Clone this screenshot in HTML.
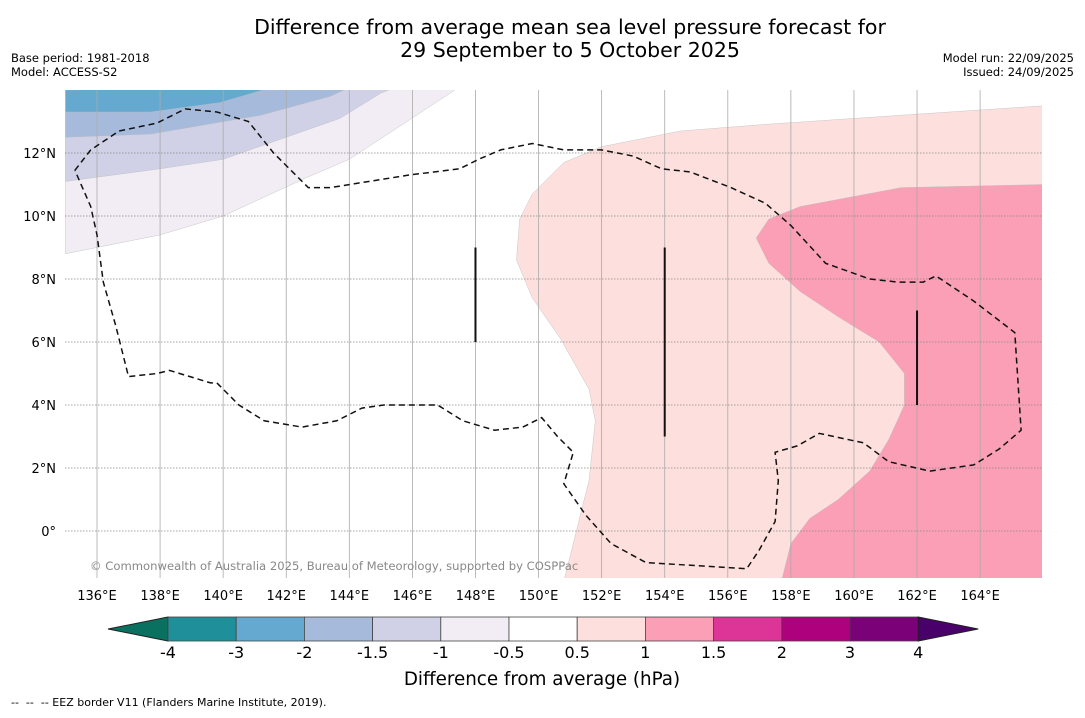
<!DOCTYPE html>
<html><head><meta charset="utf-8">
<style>
body{margin:0;background:#fff;font-family:"Liberation Sans","DejaVu Sans",sans-serif;}
svg text{font-family:"DejaVu Sans","Liberation Sans",sans-serif;}
</style></head>
<body>
<svg width="1085" height="713" viewBox="0 0 1085 713" xmlns="http://www.w3.org/2000/svg">
<text x="570" y="34" text-anchor="middle" font-size="20.5">Difference from average mean sea level pressure forecast for</text>
<text x="570" y="57" text-anchor="middle" font-size="20.5">29 September to 5 October 2025</text>
<text x="11" y="62" font-size="11.5">Base period: 1981-2018</text>
<text x="11" y="76" font-size="11.5">Model: ACCESS-S2</text>
<text x="1074" y="62" font-size="11.5" text-anchor="end">Model run: 22/09/2025</text>
<text x="1074" y="76" font-size="11.5" text-anchor="end">Issued: 24/09/2025</text>
<defs><clipPath id="mapclip"><rect x="65" y="90" width="977" height="488"/></clipPath></defs>
<g id="map" clip-path="url(#mapclip)"></g>
<g id="axes"></g>
<text x="90" y="570" font-size="11.6" fill="#888">© Commonwealth of Australia 2025, Bureau of Meteorology, supported by COSPPac</text>
<g id="cbar"></g>
<text x="542" y="685" text-anchor="middle" font-size="18.3">Difference from average (hPa)</text>
<text x="11" y="706" font-size="11" xml:space="preserve">--  --  -- EEZ border V11 (Flanders Marine Institute, 2019).</text>
</svg>
<script>
const lonTicks=[136,138,140,142,144,146,148,150,152,154,156,158,160,162,164];
const latTicks=[0,2,4,6,8,10,12];
const levels=[-4,-3,-2,-1.5,-1,-0.5,0.5,1,1.5,2,3,4];
const levelColors=["#1f9099","#66a9d0","#a6bbdc","#d0d1e6","#f2edf4","#ffffff","#fde0dd","#fa9fb5","#dd3497","#ae017e","#7a0177"];
// contour boundaries [lon,lat]
const bandM2=[[135,14],[135,13.3],[137.7,13.3],[139.9,13.6],[141.6,14.1]];
const bandM15=[[135,14],[135,12.5],[137.7,12.6],[141.2,13.2],[143.4,13.8],[144.7,14.4]];
const bandM1=[[135,14],[135,11.1],[138,11.5],[140,11.8],[143.7,13.1],[145,13.9],[145.5,14.1]];
const bandM05=[[135,14],[135,8.8],[138,9.4],[140,10.0],[142.6,11.2],[144,11.8],[147.5,14.1]];
const pink1=[[150.8,-1.6],[151.2,0.0],[151.6,1.6],[151.8,3.5],[151.6,4.5],[150.7,6.1],[149.8,7.4],[149.3,8.6],[149.4,9.9],[149.8,10.7],[150.8,11.7],[152.0,12.2],[154.5,12.7],[157.1,12.9],[161.5,13.2],[166,13.5],[166,-1.6]];
const pink15=[[166,11.0],[161.5,10.9],[158.3,10.3],[157.3,9.9],[156.9,9.3],[157.3,8.5],[158.3,7.6],[159.5,6.8],[160.8,6.0],[161.6,5.0],[161.6,4.0],[161.1,2.9],[160.5,1.9],[159.5,1.0],[158.6,0.4],[158,-0.4],[157.7,-1.6],[166,-1.6]];
const eez=[[135.3,11.45],[135.8,12.1],[136.7,12.7],[137.9,12.95],[138.8,13.4],[139.8,13.3],[140.8,13.0],[141.6,12.0],[142.7,10.9],[143.4,10.9],[145.9,11.3],[147.5,11.5],[148.1,11.8],[148.8,12.1],[149.8,12.3],[150.8,12.1],[152.0,12.1],[153,11.9],[153.9,11.5],[154.8,11.4],[156.1,10.9],[157.2,10.4],[158.0,9.7],[159.1,8.5],[160.5,8.0],[161.4,7.9],[162.2,7.9],[162.6,8.1],[163.8,7.3],[165.1,6.3],[165.3,3.2],[164.6,2.6],[163.8,2.1],[162.4,1.9],[161.1,2.2],[160.3,2.8],[158.9,3.1],[158.2,2.7],[157.5,2.5],[157.6,1.6],[157.5,0.3],[157.0,-0.6],[156.6,-1.2],[153.4,-1.0],[152.3,-0.4],[151.5,0.5],[150.8,1.5],[151.1,2.5],[150.6,3.0],[150.1,3.6],[149.5,3.3],[148.6,3.2],[147.6,3.5],[146.8,4.0],[145.1,4.0],[144.4,3.9],[143.6,3.5],[142.5,3.3],[141.3,3.5],[140.5,4.0],[139.8,4.7],[139.6,4.7],[138.3,5.1],[137.9,5.0],[137.0,4.9],[136.6,6.5],[136.2,7.9],[136.0,9.4],[135.8,10.3],[135.3,11.45]];
const windLon=[148,154,162];
const windLat0=[6,3,4];
const windLat1=[9,9,7];

const NS="http://www.w3.org/2000/svg";
const X=lon=>97+(lon-136)*31.54;
const Y=lat=>531-lat*31.5;
function mk(tag,attrs,parent){const e=document.createElementNS(NS,tag);for(const k in attrs)e.setAttribute(k,attrs[k]);parent.appendChild(e);return e;}
function pathOf(pts,close){return pts.map((p,i)=>(i?"L":"M")+X(p[0]).toFixed(1)+","+Y(p[1]).toFixed(1)).join("")+(close?"Z":"");}
const map=document.getElementById("map");
let bg=mk("rect",{x:65,y:90,width:977,height:488,fill:"#fff"},map);


const fills=[[bandM05,levelColors[4],'contour-minus-0.5'],[bandM1,levelColors[3],'contour-minus-1'],[bandM15,levelColors[2],'contour-minus-1.5'],[bandM2,levelColors[1],'contour-minus-2'],[pink1,levelColors[6],'contour-plus-0.5'],[pink15,levelColors[7],'contour-plus-1']];
fills.forEach(f=>{const p=mk("path",{d:pathOf(f[0],true),fill:f[1],stroke:"#bbb","stroke-width":0.4},map);

});
lonTicks.forEach(l=>{const ln=mk("line",{x1:X(l),x2:X(l),y1:90,y2:578,stroke:"#aaa","stroke-width":0.8},map);

});
latTicks.forEach(l=>{const ln=mk("line",{x1:65,x2:1042,y1:Y(l),y2:Y(l),stroke:"#888","stroke-width":0.8,"stroke-dasharray":"1.5,1.5"},map);

});
const ez=mk("path",{d:pathOf(eez,false),fill:"none",stroke:"#111","stroke-width":1.5,"stroke-dasharray":"6,4"},map);


windLon.forEach((l,i)=>{const ln=mk("line",{x1:X(l),x2:X(l),y1:Y(windLat0[i]),y2:Y(windLat1[i]),stroke:"#111","stroke-width":2},map);

});
const axes=document.getElementById("axes");
lonTicks.forEach(l=>{const t=mk("text",{x:X(l),y:600,"text-anchor":"middle","font-size":13},axes);t.textContent=l+"°E";

});
latTicks.forEach(l=>{const t=mk("text",{x:56,y:Y(l)+5,"text-anchor":"end","font-size":13},axes);t.textContent=l===0?"0°":l+"°N";

});
const cb=document.getElementById("cbar");
const cx0=168,cw=68.2,cy=617,ch=24;
let tl=mk("polygon",{points:`108,${cy+ch/2} ${cx0},${cy} ${cx0},${cy+ch}`,fill:"#0a7060",stroke:"#222","stroke-width":1},cb);


levelColors.forEach((c,i)=>{const r=mk("rect",{x:cx0+i*cw,y:cy,width:cw,height:ch,fill:c,stroke:"#444","stroke-width":0.8},cb);

});
const xe=cx0+levelColors.length*cw;
let tr=mk("polygon",{points:`${xe},${cy} ${xe+60},${cy+ch/2} ${xe},${cy+ch}`,fill:"#4a006a",stroke:"#222","stroke-width":1},cb);


levels.forEach((v,i)=>{const t=mk("text",{x:cx0+i*cw,y:658,"text-anchor":"middle","font-size":16},cb);t.textContent=String(v);

});
</script>
</body></html>
